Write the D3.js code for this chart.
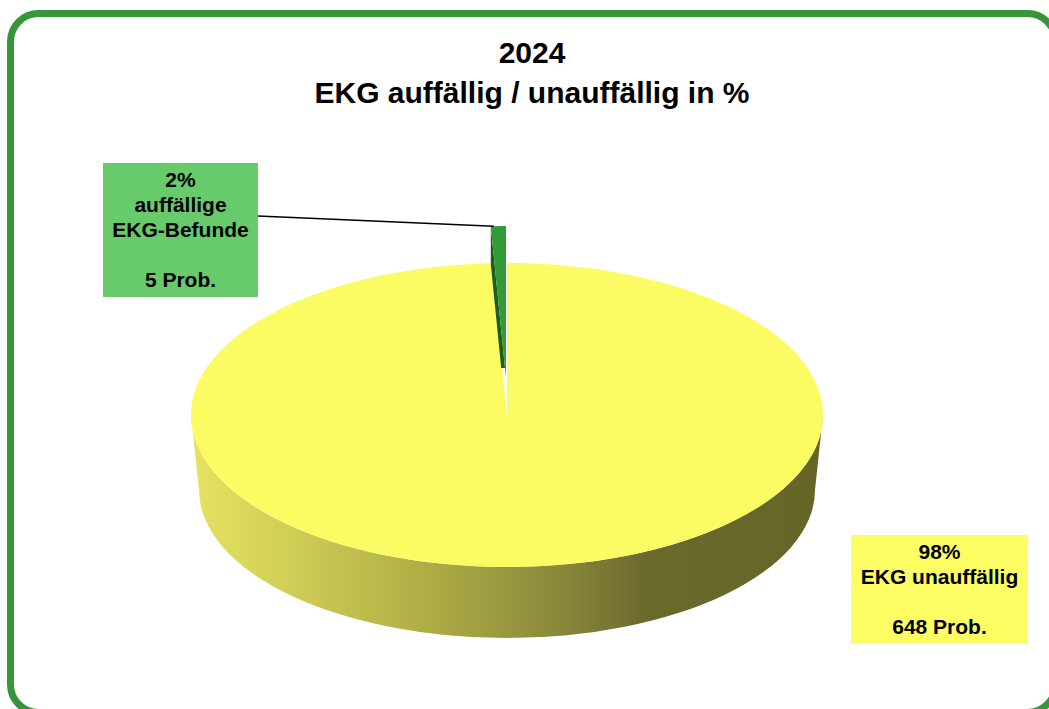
<!DOCTYPE html>
<html>
<head>
<meta charset="utf-8">
<script src="https://cdn.jsdelivr.net/npm/d3@7"></script>
<style>
  html, body { margin: 0; padding: 0; background: #fff; }
  svg { display: block; font-family: "Liberation Sans", Arial, sans-serif; }
</style>
</head>
<body>
<script>
// Daten
const categories = ["auffällige EKG-Befunde", "EKG unauffällig"];
const counts = [5, 648];
const percentLabels = ["2%", "98%"];
const labelLines = [
  ["2%", "auffällige", "EKG-Befunde", "", "5 Prob."],
  ["98%", "EKG unauffällig", "", "648 Prob."]
];
const titleLines = ["2024", "EKG auffällig / unauffällig in %"];

const width = 1049, height = 709;

const svg = d3.select("body").append("svg").attr("width", width).attr("height", height);
const defs = svg.append("defs");

// Geometrie der 3D-Torte
const cx = 507, cy = 415, rx = 316, ry = 152;
const rxb = 308, cyb = 490, ryb = 148;
const k = ry / rx;
const explode = { x: -1, y: -37 };

const pie = d3.pie().sort(null)
  .startAngle(-2 * Math.PI * counts[0] / d3.sum(counts))
  .endAngle(2 * Math.PI - 2 * Math.PI * counts[0] / d3.sum(counts));
const slices = pie(counts);
const arc = d3.arc().innerRadius(0).outerRadius(rx);

// Seitenverlauf
const grad = defs.append("linearGradient").attr("id", "side")
  .attr("gradientUnits", "userSpaceOnUse")
  .attr("x1", cx - rx).attr("x2", cx + rx).attr("y1", 0).attr("y2", 0);
[[0, "#e4e362"], [0.15, "#d0cf56"], [0.4, "#aaa944"], [0.6, "#86853a"], [0.72, "#6b6a2d"], [1, "#666528"]]
  .forEach(([o, c]) => grad.append("stop").attr("offset", o).attr("stop-color", c));

// Seite (nur die vordere Hälfte ist sichtbar)
svg.append("path")
  .attr("d", `M${cx - rx},${cy} A${rx},${ry} 0 0 0 ${cx + rx},${cy} L${cx + rxb},${cyb} A${rxb},${ryb} 0 0 1 ${cx - rxb},${cyb} Z`)
  .attr("fill", "url(#side)");

// Deckfläche gelb
svg.append("g").attr("transform", `translate(${cx},${cy}) scale(1,${k})`)
  .append("path").attr("d", arc(slices[1])).attr("fill", "#fbfb64");

// herausgezogenes grünes Stück
const gx = cx + explode.x, gy = cy + explode.y;
const s0 = slices[0].startAngle;
const B = [gx + rx * Math.sin(s0), gy - ry * Math.cos(s0)];
const sd = 38;
defs.append("clipPath").attr("id", "gclip").append("rect")
  .attr("x", 0).attr("y", 0).attr("width", width).attr("height", gy - 10);
svg.append("path")
  .attr("clip-path", "url(#gclip)")
  .attr("d", d3.line()([[gx, gy], B, [B[0], B[1] + sd], [gx, gy + sd]]) + "Z")
  .attr("fill", "#1d5e1f");
svg.append("g").attr("transform", `translate(${gx},${gy}) scale(1,${k})`)
  .append("path").attr("d", arc(slices[0])).attr("fill", "#339a38");

// Beschriftungen
const boxes = [
  { x: 103, y: 163, w: 155, h: 134, fill: "#67cb6b" },
  { x: 851, y: 535, w: 177, h: 109, fill: "#fdfd64" }
];
const lineH = 25;

// Verbindungslinie
svg.append("line")
  .attr("x1", boxes[0].x + boxes[0].w).attr("y1", 216)
  .attr("x2", B[0] + 3).attr("y2", B[1])
  .attr("stroke", "#000").attr("stroke-width", 1.5);

boxes.forEach((b, i) => {
  svg.append("rect").attr("x", b.x).attr("y", b.y).attr("width", b.w).attr("height", b.h).attr("fill", b.fill);
  const t = svg.append("text").attr("text-anchor", "middle")
    .attr("font-size", 21).attr("font-weight", "bold").attr("fill", "#000");
  labelLines[i].forEach((l, j) => {
    t.append("tspan").attr("x", b.x + b.w / 2).attr("y", b.y + 24 + j * lineH).text(l);
  });
});

// Titel
svg.append("text").attr("text-anchor", "middle").attr("font-size", 30).attr("font-weight", "bold")
  .selectAll("tspan").data(titleLines).join("tspan")
  .attr("x", 532).attr("y", (d, i) => 63 + i * 40).text(d => d);

// Rahmen
svg.append("rect").attr("x", 10.5).attr("y", 13.5).attr("width", 1045).attr("height", 699)
  .attr("rx", 28).attr("fill", "none").attr("stroke", "#36963a").attr("stroke-width", 7);
</script>
</body>
</html>
